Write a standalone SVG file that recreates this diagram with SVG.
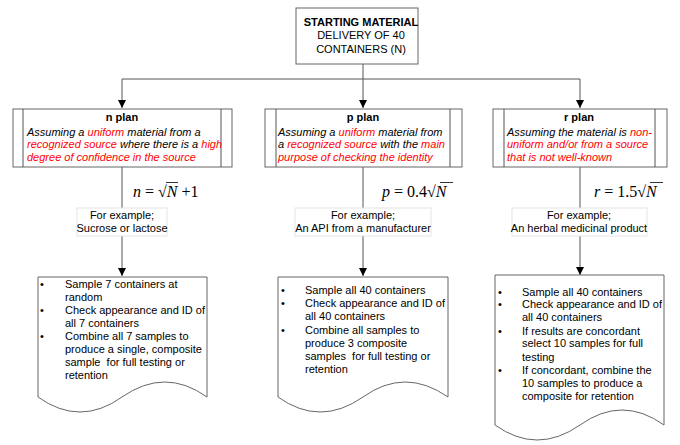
<svg xmlns="http://www.w3.org/2000/svg" width="680" height="445" viewBox="0 0 680 445">
<defs>
<marker id="ah" viewBox="0 0 10 10" refX="10" refY="5" markerWidth="8" markerHeight="8" markerUnits="userSpaceOnUse" orient="auto">
<path d="M0,0 L10,5 L0,10 z" fill="#000"/>
</marker>
<style>
text{font-family:"Liberation Sans",Arial,sans-serif;font-size:11px;fill:#000}
.b{font-weight:bold}
.i{font-style:italic}
.r{fill:#ff0000}
.box{fill:#fff;stroke:#666;stroke-width:1}
.lbl{fill:#fff;stroke:#e4e4e4;stroke-width:1}
.con{fill:none;stroke:#555;stroke-width:1}
.f{font-family:"Liberation Serif","Times New Roman",serif;font-size:16px}
.bar{stroke:#000;stroke-width:0.8}
</style>
</defs>
<rect width="680" height="445" fill="#fff"/>
<g id="connectors">
<path class="con" d="M363,64 V79 M122,79 H580"/>
<path class="con" d="M122,79 V108" marker-end="url(#ah)"/>
<path class="con" d="M363,79 V108" marker-end="url(#ah)"/>
<path class="con" d="M580,79 V108" marker-end="url(#ah)"/>
<path class="con" d="M122,167 V276" marker-end="url(#ah)"/>
<path class="con" d="M363,167 V276" marker-end="url(#ah)"/>
<path class="con" d="M580,167 V275" marker-end="url(#ah)"/>
</g>
<g id="start">
<rect class="box" x="296" y="8" width="122" height="56"/>
<text x="361" y="26" text-anchor="middle" class="b" font-size="10.5">STARTING MATERIAL</text>
<text x="361" y="39" text-anchor="middle">DELIVERY OF 40</text>
<text x="361" y="53" text-anchor="middle">CONTAINERS (N)</text>
</g>
<g id="nplan">
<rect class="box" x="13" y="109" width="219" height="58"/>
<path class="con" d="M23,109 V167 M221,109 V167" stroke="#666"/>
<text x="122" y="121" text-anchor="middle" class="b">n plan</text>
<text x="27" y="136" class="i">Assuming a <tspan class="r">uniform</tspan> material from a</text>
<text x="27" y="148" class="i"><tspan class="r">recognized source</tspan> where there is a <tspan class="r">high</tspan></text>
<text x="27" y="161" class="i r">degree of confidence in the source</text>
</g>
<g id="pplan">
<rect class="box" x="265" y="109" width="197" height="58"/>
<path class="con" d="M276,109 V167 M450,109 V167" stroke="#666"/>
<text x="363" y="121" text-anchor="middle" class="b">p plan</text>
<text x="278" y="136" class="i">Assuming a <tspan class="r">uniform</tspan> material from</text>
<text x="278" y="148" class="i">a <tspan class="r">recognized source</tspan> with the <tspan class="r">main</tspan></text>
<text x="278" y="161" class="i r">purpose of checking the identity</text>
</g>
<g id="rplan">
<rect class="box" x="493" y="109" width="174" height="58"/>
<path class="con" d="M504,109 V167 M655,109 V167" stroke="#666"/>
<text x="579" y="121" text-anchor="middle" class="b">r plan</text>
<text x="507" y="136" class="i">Assuming the material is <tspan class="r">non-</tspan></text>
<text x="507" y="148" class="i r">uniform and/or from a source</text>
<text x="507" y="161" class="i r">that is not well-known</text>
</g>
<g id="nformula">
<text x="133" y="197" class="f"><tspan font-style="italic">n</tspan> = √<tspan font-style="italic">N</tspan> +1</text>
<line class="bar" x1="166" y1="182.5" x2="178" y2="182.5"/>
</g>
<g id="pformula">
<text x="382" y="197" class="f"><tspan font-style="italic">p</tspan> = 0.4√<tspan font-style="italic">N</tspan></text>
<line class="bar" x1="440" y1="182.5" x2="453" y2="182.5"/>
</g>
<g id="rformula">
<text x="594" y="197" class="f"><tspan font-style="italic">r</tspan> = 1.5√<tspan font-style="italic">N</tspan></text>
<line class="bar" x1="650" y1="182.5" x2="663" y2="182.5"/>
</g>
<g id="nex">
<rect class="lbl" x="77" y="208" width="90" height="28"/>
<text x="122" y="219" text-anchor="middle">For example;</text>
<text x="122" y="232" text-anchor="middle">Sucrose or lactose</text>
</g>
<g id="pex">
<rect class="lbl" x="295" y="208" width="136" height="28"/>
<text x="363" y="219" text-anchor="middle">For example;</text>
<text x="363" y="232" text-anchor="middle">An API from a manufacturer</text>
</g>
<g id="rex">
<rect class="lbl" x="512" y="208" width="135" height="28"/>
<text x="579" y="219" text-anchor="middle">For example;</text>
<text x="579" y="232" text-anchor="middle">An herbal medicinal product</text>
</g>
<g id="ndoc">
<path class="box" d="M38,277 H207 V397 Q165,367 122,397 Q80,427 38,397 Z"/>
<text x="40" y="288">•</text><text x="65" y="288">Sample 7 containers at</text>
<text x="65" y="301">random</text>
<text x="40" y="314">•</text><text x="65" y="314">Check appearance and ID of</text>
<text x="65" y="327">all 7 containers</text>
<text x="40" y="340">•</text><text x="65" y="340">Combine all 7 samples to</text>
<text x="65" y="353">produce a single, composite</text>
<text x="65" y="366">sample&#160; for full testing or</text>
<text x="65" y="379">retention</text>
</g>
<g id="pdoc">
<path class="box" d="M278,277 H448 V397 Q405,367 363,397 Q320,427 278,397 Z"/>
<text x="281" y="294">•</text><text x="305" y="294">Sample all 40 containers</text>
<text x="281" y="307">•</text><text x="305" y="307">Check appearance and ID of</text>
<text x="305" y="320">all 40 containers</text>
<text x="281" y="334">•</text><text x="305" y="334">Combine all samples to</text>
<text x="305" y="347">produce 3 composite</text>
<text x="305" y="360">samples&#160; for full testing or</text>
<text x="305" y="373">retention</text>
</g>
<g id="rdoc">
<path class="box" d="M495,275 H664 V425 Q622,395 580,425 Q537,455 495,425 Z"/>
<text x="498" y="296">•</text><text x="522" y="296">Sample all 40 containers</text>
<text x="498" y="308">•</text><text x="522" y="308">Check appearance and ID of</text>
<text x="522" y="321">all 40 containers</text>
<text x="498" y="335">•</text><text x="522" y="335">If results are concordant</text>
<text x="522" y="347">select 10 samples for full</text>
<text x="522" y="361">testing</text>
<text x="498" y="374">•</text><text x="522" y="374">If concordant, combine the</text>
<text x="522" y="387">10 samples to produce a</text>
<text x="522" y="400">composite for retention</text>
</g>
</svg>
